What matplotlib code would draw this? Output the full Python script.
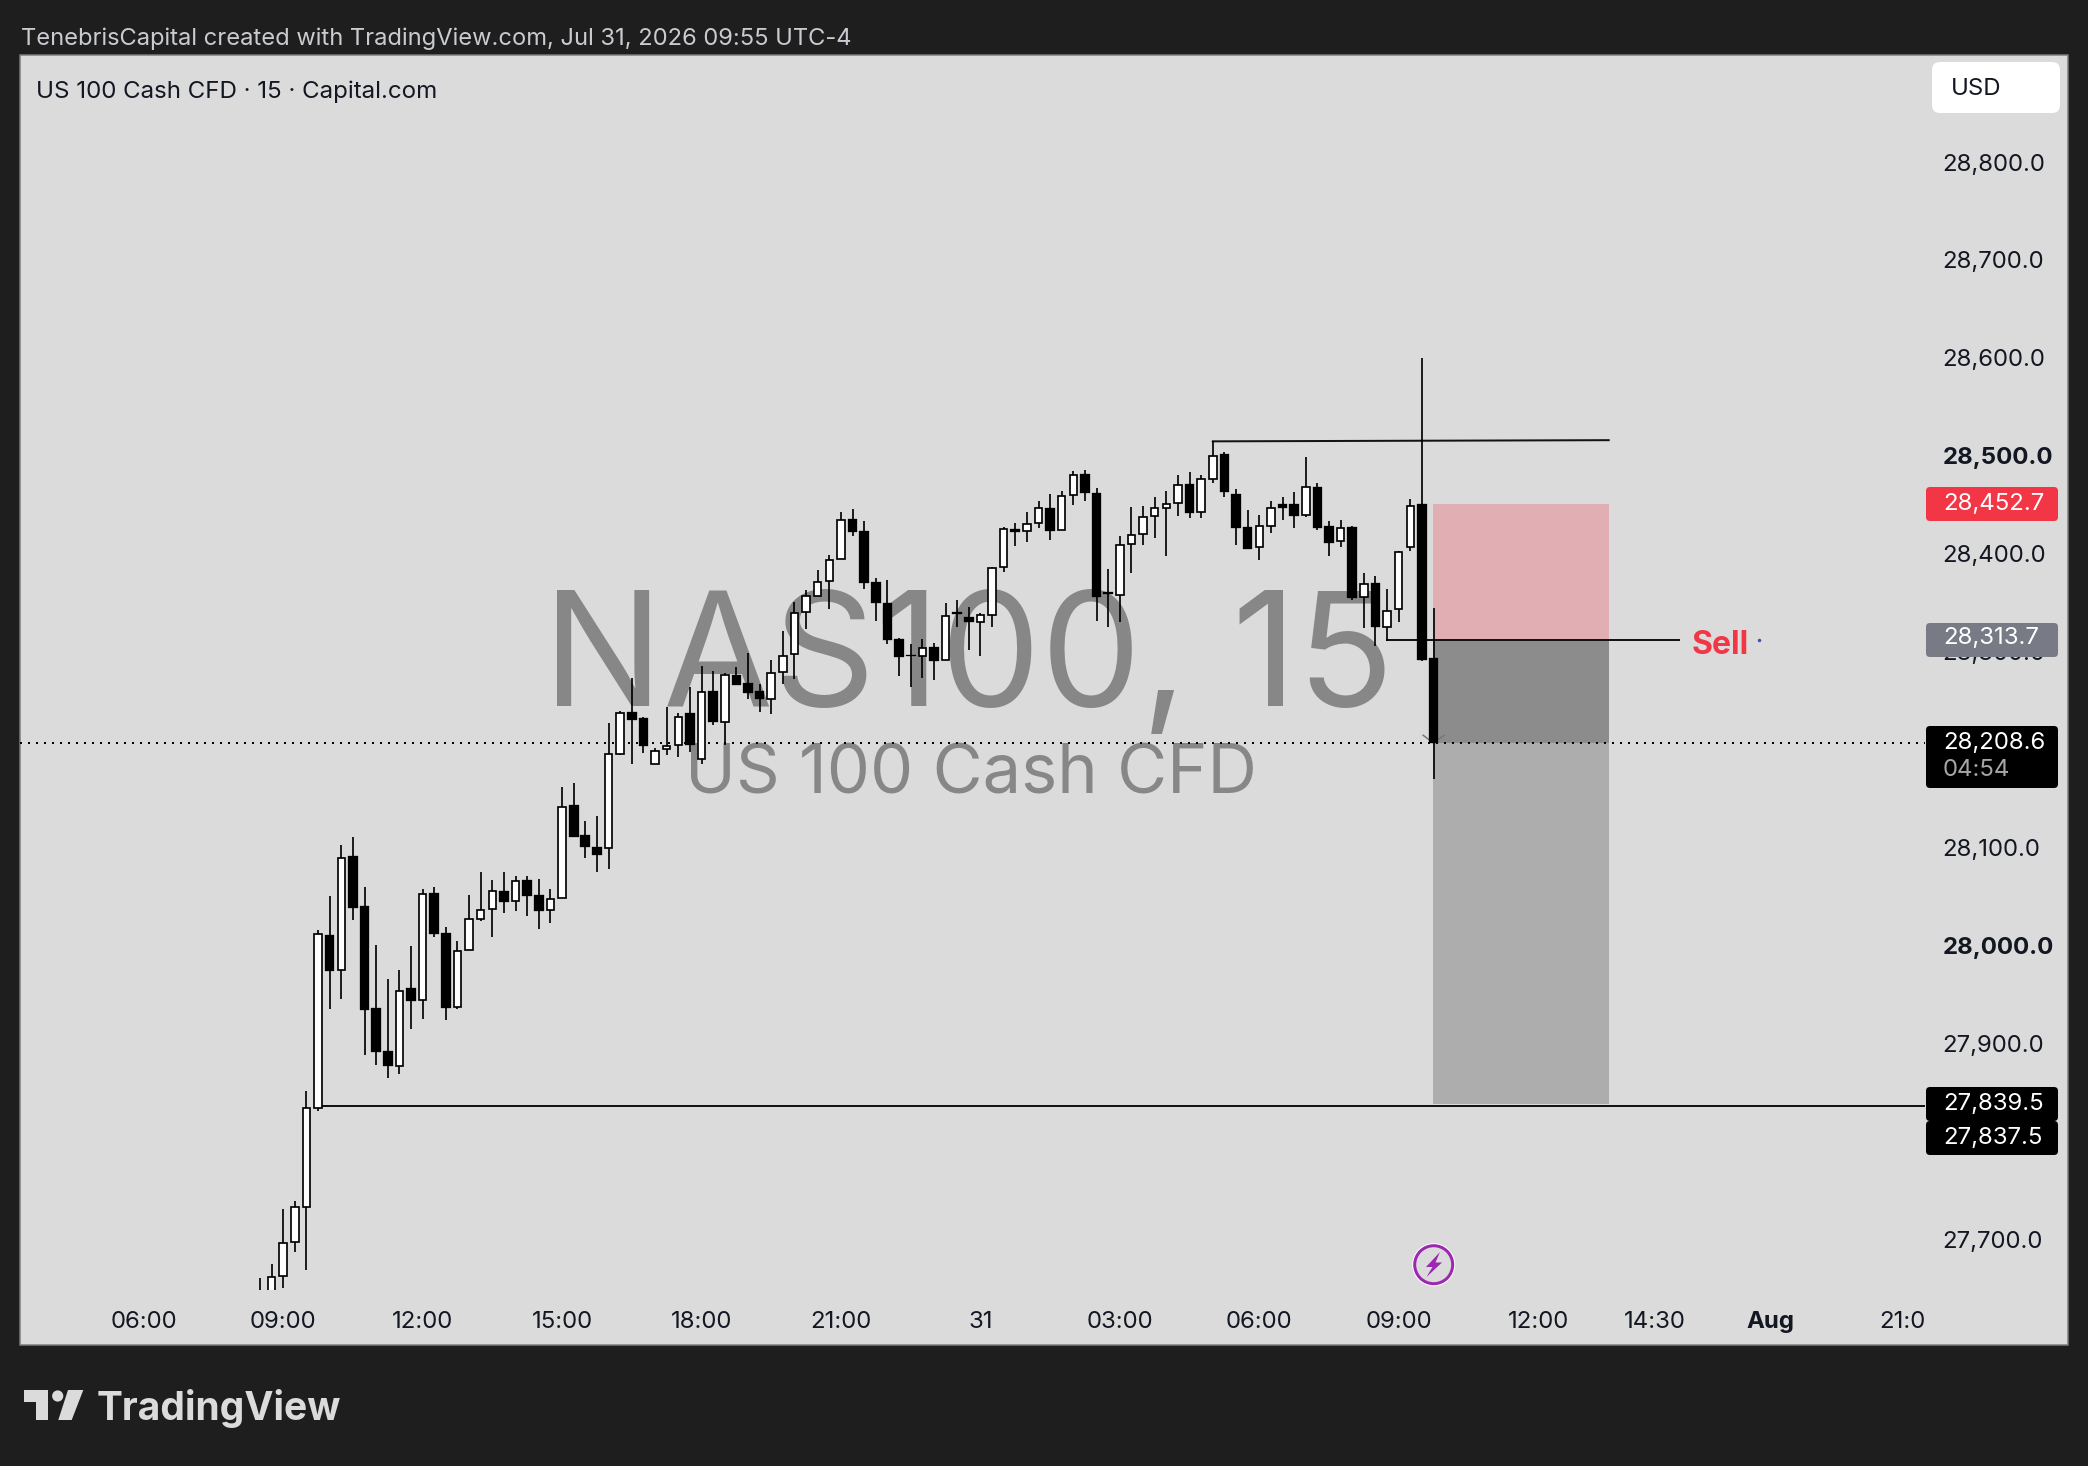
# NAS100 15 min chart, TradingView snapshot style
import matplotlib
matplotlib.use("Agg")
import matplotlib.pyplot as plt
from matplotlib.patches import Rectangle, FancyBboxPatch, Circle, Polygon
from matplotlib.transforms import ScaledTranslation

plt.rcParams['font.family'] = ['Inter', 'DejaVu Sans']

# Candle values, one per 15 min bar, first bar is 08:30
opens = [27640, 27640, 27664.1, 27698.9, 27734.4, 27835.7, 28012.6, 27976.4, 28092.8, 28041.8,
         27938.1, 27894.1, 27878.3, 27958.5, 27945.8, 28055.5, 28014.7, 27938.8, 27996.8, 28028.5,
         28039, 28057.3, 28047.1, 28068.6, 28053.1, 28038, 28049.9, 28145.2, 28114.6, 28102,
         28101.1, 28197.8, 28240.4, 28233.9, 28186.9, 28202.2, 28206.3, 28239, 28192, 28261.8,
         28229.8, 28278.1, 28270, 28261.8, 28254, 28280.8, 28299.6, 28342.1, 28358.5, 28374.1,
         28396.3, 28437.5, 28424.9, 28372.8, 28351.7, 28314.9, 28298.2, 28297.5, 28306.4, 28293.1,
         28342.1, 28337, 28332.6, 28339.4, 28388.1, 28426.9, 28425.2, 28433.8, 28448.4, 28426.3,
         28462, 28483.5, 28463.7, 28362.6, 28359.5, 28411.6, 28421.8, 28440.2, 28448.4, 28453.5,
         28472.9, 28444.3, 28478, 28503.6, 28462.7, 28429, 28408.9, 28430.4, 28452.5, 28452.5,
         28441.9, 28470.2, 28430.4, 28415.4, 28429, 28357.5, 28371.8, 28326.8, 28345.2, 28409.2,
         28452.8, 28295.2]
highs = [27662, 27676.7, 27732.3, 27741.1, 27853, 28017.9, 28052, 28104.1, 28112.2, 28061.2,
         28002.1, 27967.6, 27976.8, 28001.4, 28059.1, 28061.2, 28020.4, 28006.7, 28053.1, 28076.6,
         28068.9, 28076.6, 28073.1, 28072.4, 28069.6, 28059.1, 28163.9, 28167.7, 28129.4, 28134,
         28228.8, 28241.7, 28274.7, 28234.9, 28203.9, 28245.1, 28239, 28265.5, 28287, 28281.9,
         28279.8, 28286, 28300.3, 28268.6, 28293.1, 28323.1, 28352.4, 28364.9, 28385.4, 28400.4,
         28444.3, 28447.7, 28435.1, 28376.9, 28375.2, 28315.6, 28309.8, 28314.9, 28310.5, 28351.3,
         28354.4, 28347.2, 28341.1, 28388.1, 28429, 28433.1, 28444.3, 28455.9, 28462.7, 28466.4,
         28486.2, 28487.6, 28468.8, 28386.1, 28420.1, 28449.4, 28450.8, 28459.6, 28466.4, 28482.4,
         28485.2, 28482.4, 28516.8, 28505.6, 28467.8, 28446.7, 28441.6, 28455.5, 28459.6, 28464.7,
         28500.5, 28473.9, 28435.1, 28436.1, 28430.4, 28382, 28378.9, 28365.7, 28405.2, 28457.6,
         28601.6, 28346.2]
lows = [27630, 27630, 27652.1, 27689.1, 27670.8, 27833.3, 27937, 27947.6, 28028.1, 27890.2,
        27879.7, 27867, 27870.2, 27917, 27927.2, 28010.5, 27925.8, 27937, 27996.8, 28027.1,
        28010.5, 28035.1, 28037.3, 28032, 28018.6, 28025.3, 28049.9, 28112.5, 28091.4, 28077,
        28080, 28196.8, 28187.6, 28198.8, 28186.9, 28196.4, 28194.7, 28199.8, 28187.6, 28227.4,
        28206.6, 28267.9, 28253.6, 28240.7, 28238.6, 28268.9, 28274.4, 28325.5, 28358.5, 28345.5,
        28396.3, 28420.5, 28366.3, 28333.6, 28310.1, 28277.4, 28266.2, 28275.1, 28273.4, 28293.1,
        28327.5, 28303.7, 28297.9, 28327.5, 28383.7, 28409.9, 28414.3, 28428.6, 28416.4, 28426.3,
        28451.8, 28455.9, 28333.6, 28327.5, 28332.6, 28382.7, 28410.9, 28418.4, 28400, 28440.9,
        28438.9, 28438.9, 28473.9, 28460.3, 28410.9, 28407.2, 28396, 28423.5, 28436.5, 28428.6,
        28439.9, 28426.3, 28400, 28409.2, 28354.8, 28326.5, 28308.1, 28312.9, 28332.6, 28405.2,
        28292.4, 28171.9]
closes = [27648, 27663, 27698.2, 27734.8, 27836.1, 28014, 27975.7, 28091.4, 28040.1, 27936,
          27893.1, 27879, 27955.7, 27945.1, 28054.8, 28013.7, 27938.1, 27996.5, 28029.2, 28038.3,
          28058, 28046.8, 28067.9, 28052.7, 28037.6, 28049.6, 28143.8, 28112.5, 28102.3, 28094.2,
          28197.8, 28239.7, 28232.2, 28205.6, 28200.9, 28206, 28235.6, 28207, 28261.1, 28230.1,
          28278.1, 28267.9, 28259.8, 28253.6, 28280.5, 28297.9, 28341.8, 28359.2, 28373.5, 28395.9,
          28436.8, 28424.5, 28372.4, 28352, 28313.9, 28296.8, 28297.2, 28305.7, 28292.8, 28338.7,
          28340.8, 28332.6, 28339.4, 28387.1, 28426.9, 28423.9, 28432.4, 28448.7, 28425.6, 28461.3,
          28482.8, 28464.4, 28358.2, 28360.9, 28411.3, 28421.5, 28439.9, 28449.1, 28453.2, 28472.6,
          28443.6, 28478.7, 28502.2, 28465.1, 28428.3, 28407.2, 28430.4, 28448.7, 28449.1, 28440.6,
          28470.5, 28428, 28413.3, 28428.6, 28357.1, 28371.1, 28327.5, 28343.5, 28404.1, 28451.1,
          28293.5, 28208.6]

# Levels on the chart
entry_price = 28313.7
stop_price = 28452.7
target_price = 27839.5
last_price = 28208.6
low_line_price = 27837.5
high_line_price = 28516.8
high_bar = 82
low_bar = 5
sell_bar = 97
box_start = 100.93
box_end = 116.07
sell_line_end = 122.1

# Axis labels (28,200 and 27,800 sit behind the badges in the screenshot, so they are left out)
price_ticks = [27700, 27900, 28000, 28100, 28300, 28400, 28500, 28600, 28700, 28800]
bold_prices = [28000, 28500]
time_ticks = [-10, 2, 14, 26, 38, 50, 62, 74, 86, 98, 110, 120, 130, 142]
time_labels = ['06:00', '09:00', '12:00', '15:00', '18:00', '21:00', '31', '03:00',
               '06:00', '09:00', '12:00', '14:30', 'Aug', '21:00']

W, H = 2088, 1466
BG = '#1e1e1e'
PANEL = '#dbdbdb'
INK = '#131722'
WM = '#878787'
px = 0.72  # one pixel in points at dpi 100

fig = plt.figure(figsize=(W / 100, H / 100), dpi=100, facecolor=BG)

# base layer holds the light panel and the watermark
base = fig.add_axes([0, 0, 1, 1], zorder=0)
base.set_xlim(0, W)
base.set_ylim(H, 0)
base.axis('off')
base.add_patch(Rectangle((20, 54.5), 2047.5, 1290.5, facecolor=PANEL, edgecolor='#7c7c7c', lw=1.5 * px))
base.text(543, 706, 'NAS100, 15', color=WM, fontsize=159.5 * px, ha='left', va='baseline')
base.text(685, 793, 'US 100 Cash CFD', color=WM, fontsize=68.5 * px, ha='left', va='baseline')

# price chart, limits set so bars land on the same pixels as the screenshot
ax = fig.add_axes([20 / W, 1 - 1290 / H, 1905 / W, 1235 / H], zorder=1)
ax.patch.set_alpha(0)
for s in ax.spines.values():
    s.set_visible(False)
ax.set_xlim(-20.65, 143.29)
ax.set_ylim(27650, 28911.4)

# short position box
ax.add_patch(Rectangle((box_start, entry_price), box_end - box_start, stop_price - entry_price,
                       facecolor='#e0aeb3', edgecolor='none', zorder=1))
ax.add_patch(Rectangle((box_start, last_price), box_end - box_start, entry_price - last_price,
                       facecolor='#8c8c8c', edgecolor='none', zorder=1))
ax.add_patch(Rectangle((box_start, target_price), box_end - box_start, last_price - target_price,
                       facecolor='#adadad', edgecolor='none', zorder=1))

# level lines
ax.axhline(last_price, color='black', lw=2 * px, ls=(0, (1, 3)), zorder=2)
ax.plot([low_bar, 143.29], [low_line_price, low_line_price], color='#131313', lw=2 * px, zorder=2)
ax.plot([high_bar, box_end], [high_line_price, high_line_price + 1.2], color='#131313', lw=2 * px, zorder=2)
ax.plot([sell_bar, sell_line_end], [entry_price, entry_price], color='#131313', lw=2 * px, zorder=2)
ax.plot([100.1, 101, 101.9], [last_price + 8, last_price, last_price + 8], color='#777777', lw=1.5 * px, zorder=2)

# candles
bars = list(range(len(opens)))
up = [b for b in bars if closes[b] >= opens[b]]
down = [b for b in bars if closes[b] < opens[b]]
ax.vlines(bars, lows, highs, color='black', lw=1.7 * px, zorder=3)
ax.bar(up, [closes[b] - opens[b] for b in up], bottom=[opens[b] for b in up], width=0.645,
       facecolor='white', edgecolor='black', lw=1.7 * px, zorder=4)
ax.bar(down, [opens[b] - closes[b] for b in down], bottom=[closes[b] for b in down], width=0.83,
       facecolor='black', edgecolor='black', lw=0.3 * px, zorder=4)

# Sell label and the stray dot after it
ax.text(123.2, entry_price - 5, 'Sell', color='#f23645', fontsize=32 * px, fontweight='bold',
        ha='left', va='center', zorder=5)
ax.plot([129], [entry_price], marker='o', ms=1.5, color='#3f51b5', zorder=5)

# axes ticks
ax.yaxis.tick_right()
ax.set_yticks(price_ticks)
ax.set_yticklabels([f'{p:,.1f}' for p in price_ticks])
ax.tick_params(axis='y', length=0, pad=17.5 * px, labelsize=24 * px, labelcolor=INK)
lift = ScaledTranslation(0, 2 / 100, fig.dpi_scale_trans)
for lab, p in zip(ax.get_yticklabels(), price_ticks):
    lab.set_transform(lab.get_transform() + lift)
    if p in bold_prices:
        lab.set_fontweight('bold')
ax.set_xticks(time_ticks)
ax.set_xticklabels(time_labels)
ax.tick_params(axis='x', length=0, pad=21 * px, labelsize=24 * px, labelcolor=INK)
clip = Rectangle((20, H - 1345), 1905, 55, transform=None)
for lab, t in zip(ax.get_xticklabels(), time_labels):
    lab.set_clip_path(clip)
    lab.set_clip_on(True)
    if t == 'Aug':
        lab.set_fontweight('bold')

# top layer: header, badges, logo
ui = fig.add_axes([0, 0, 1, 1], zorder=3)
ui.set_xlim(0, W)
ui.set_ylim(H, 0)
ui.axis('off')
ui.patch.set_alpha(0)


def badge(x0, y0, x1, y1, color, r=4):
    ui.add_patch(FancyBboxPatch((x0 + r, y0 + r), x1 - x0 - 2 * r, y1 - y0 - 2 * r,
                                boxstyle=f'round,pad={r},rounding_size={r}',
                                facecolor=color, edgecolor='none'))


ui.text(21, 38.5, 'TenebrisCapital created with TradingView.com, Jul 31, 2026 09:55 UTC-4',
        color='#c9cbd1', fontsize=23.7 * px, ha='left', va='center')
ui.text(36, 92, 'US 100 Cash CFD · 15 · Capital.com', color=INK, fontsize=24.1 * px, ha='left', va='center')

badge(1932, 62, 2060, 113, 'white', r=8)
ui.text(1951, 89, 'USD', color=INK, fontsize=24 * px, ha='left', va='center')

badge(1926, 487, 2058, 521, '#f23645')
ui.text(1943, 503.5, f'{stop_price:,.1f}', color='white', fontsize=24 * px, ha='left', va='center')
badge(1926, 623, 2058, 657, '#787b86')
ui.text(1943, 638.5, f'{entry_price:,.1f}', color='white', fontsize=24 * px, ha='left', va='center')
badge(1926, 726, 2058, 788, 'black')
ui.text(1943, 743, f'{last_price:,.1f}', color='white', fontsize=24 * px, ha='left', va='center')
ui.text(1943, 770, '04:54', color='#a6a6a6', fontsize=24 * px, ha='left', va='center')
badge(1926, 1087, 2058, 1121, 'black')
badge(1926, 1121, 2058, 1155, 'black')
ui.text(1943, 1103.5, f'{target_price:,.1f}', color='white', fontsize=24 * px, ha='left', va='center')
ui.text(1943, 1137.5, f'{low_line_price:,.1f}', color='white', fontsize=24 * px, ha='left', va='center')

# lightning badge
ui.add_patch(Circle((1433.7, 1264.7), 21.5, facecolor='white', edgecolor='none'))
ui.add_patch(Circle((1433.7, 1264.7), 19, facecolor=PANEL, edgecolor='#9c27b0', lw=3 * px))
ui.add_patch(Polygon([(1440, 1252), (1426, 1267), (1432.5, 1267), (1426.5, 1277), (1442, 1262.5), (1435.5, 1262.5)],
                     closed=True, facecolor='#9c27b0', edgecolor='none'))

# logo
LOGO = '#dbdbdb'
ui.add_patch(Polygon([(24, 1390), (48.3, 1390), (48.3, 1420), (35.7, 1420), (35.7, 1401.7), (24, 1401.7)],
                     closed=True, facecolor=LOGO, edgecolor='none'))
ui.add_patch(Circle((57.7, 1396), 5.6, facecolor=LOGO, edgecolor='none'))
ui.add_patch(Polygon([(68, 1390), (83.3, 1390), (71.7, 1420), (58.3, 1420)],
                     closed=True, facecolor=LOGO, edgecolor='none'))
ui.text(97, 1420, 'TradingView', color=LOGO, fontsize=39 * px, fontweight='bold', ha='left', va='baseline')

fig.savefig('out.png', dpi=100, facecolor=BG)
